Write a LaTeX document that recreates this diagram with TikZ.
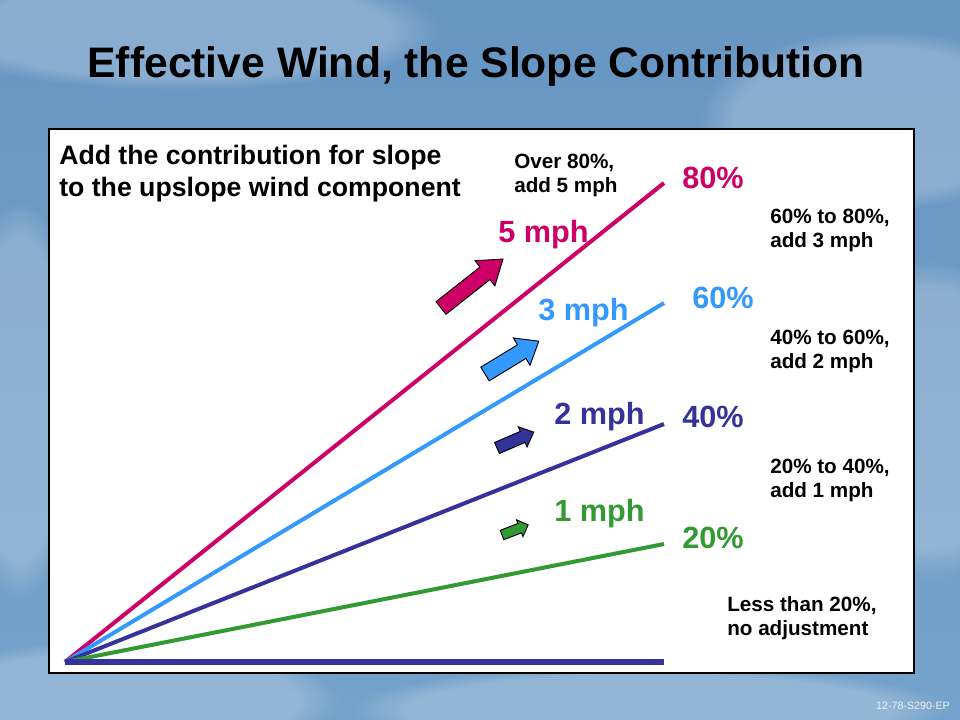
\documentclass[tikz,border=0pt]{standalone}
\usepackage{fontspec}
\usetikzlibrary{fadings}
\setmainfont{Liberation Sans}
\definecolor{magL}{RGB}{204,0,102}
\definecolor{skyL}{RGB}{51,153,255}
\definecolor{navyL}{RGB}{51,51,153}
\definecolor{grnL}{RGB}{51,153,51}
\definecolor{bgtop}{RGB}{104,150,194}
\definecolor{bgbot}{RGB}{116,162,202}
\newcommand{\wArrow}[8]{%
  \begin{scope}[shift={(#1,#2)},rotate=#3]
    \draw[fill=#8,line width=0.7pt,line join=miter]
      (0,-#5/2) -- (#4-#7,-#5/2) -- (#4-#7,-#6/2) -- (#4,0)
      -- (#4-#7,#6/2) -- (#4-#7,#5/2) -- (0,#5/2) -- cycle;
  \end{scope}}
\begin{document}
\begin{tikzpicture}[x=0.75pt,y=-0.75pt,
  slopeline/.style={line width=3pt},
  cloud/.style={white,opacity=0.22,path fading=circle with fuzzy edge 20 percent},
  pct/.style={font=\bfseries\fontsize{23}{27}\selectfont,anchor=west,inner sep=0pt},
  note/.style={font=\bfseries\fontsize{15.5}{18}\selectfont,anchor=west,align=left,inner sep=0pt}]
\useasboundingbox (0,0) rectangle (960,720);
\shade[top color=bgtop,bottom color=bgbot] (0,0) rectangle (960,720);
\fill[cloud] (180,30) ellipse (260 and 60);
\fill[cloud] (880,120) ellipse (180 and 90);
\fill[cloud] (930,420) ellipse (120 and 160);
\fill[cloud] (120,700) ellipse (220 and 60);
\fill[cloud] (650,710) ellipse (300 and 45);
\fill[cloud] (20,400) ellipse (60 and 200);
\node[font=\bfseries\fontsize{32}{38}\selectfont,inner sep=0pt] (title) at (476,66) {Effective Wind, the Slope Contribution};
\node[draw=black,line width=1.5pt,fill=white,minimum width=865*0.75pt,minimum height=544*0.75pt,anchor=north west,inner sep=0pt] (box) at (48,128) {};
\coordinate (O) at (65,662);
\coordinate (e80) at (664,183);
\coordinate (e60) at (664,303);
\coordinate (e40) at (664,424);
\coordinate (e20) at (664,544);
\coordinate (e0) at (664,662);
\draw[slopeline,magL] (O) -- (e80);
\draw[slopeline,skyL] (O) -- (e60);
\draw[slopeline,navyL] (O) -- (e40);
\draw[slopeline,grnL] (O) -- (e20);
\draw[navyL,line width=4pt] (O) -- (e0);
\node[font=\bfseries\fontsize{20}{24}\selectfont,anchor=west,align=left,inner sep=0pt] (head) at (59,174) {Add the contribution for slope\\to the upslope wind component};
\node[note] (n80) at (514,175) {Over 80\%,\\add 5 mph};
\node[note] (n60) at (770,230) {60\% to 80\%,\\add 3 mph};
\node[note] (n40) at (770,351) {40\% to 60\%,\\add 2 mph};
\node[note] (n20) at (770,480) {20\% to 40\%,\\add 1 mph};
\node[note] (n0) at (727,618) {Less than 20\%,\\no adjustment};
\node[pct,magL] (p80) at (682,178) {80\%};
\node[pct,skyL] (p60) at (692,298) {60\%};
\node[pct,navyL] (p40) at (682,417) {40\%};
\node[pct,grnL] (p20) at (682,538) {20\%};
\node[pct,magL] (m5) at (498,235) {5 mph};
\node[pct,skyL] (m3) at (538,313) {3 mph};
\node[pct,navyL] (m2) at (554,417) {2 mph};
\node[pct,grnL] (m1) at (554,514) {1 mph};
\wArrow{441}{308}{38.3}{79}{16}{32}{23}{magL}
\wArrow{485}{374}{31.4}{63}{16}{32}{20}{skyL}
\wArrow{497}{448}{23.4}{40}{12}{22}{12}{navyL}
\wArrow{502}{535}{21}{28}{10}{18}{9}{grnL}
\node[font=\fontsize{8}{10}\selectfont,text=white!88!gray,anchor=east,inner sep=0pt] (ref) at (950,706) {12-78-S290-EP};
\end{tikzpicture}
\end{document}
